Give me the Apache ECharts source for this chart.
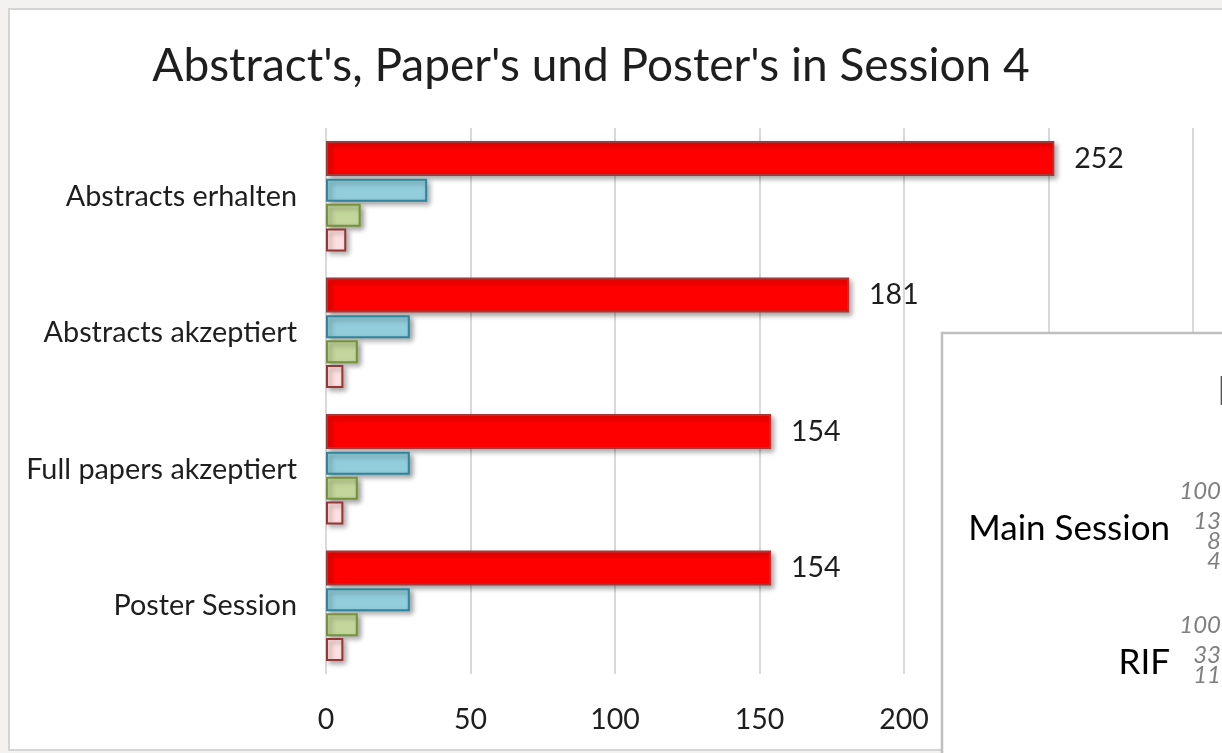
<!DOCTYPE html>
<html>
<head>
<meta charset="utf-8">
<title>Abstract's, Paper's und Poster's in Session 4</title>
<script src="https://cdn.jsdelivr.net/npm/echarts@6/dist/echarts.min.js"></script>
<style>
  html, body { margin: 0; padding: 0; background: #f3f2f0; }
  #chart { width: 1222px; height: 753px; }
</style>
</head>
<body>
<div id="chart"></div>
<script>
// Submissions per stage (left chart)
const categories = ['Abstracts erhalten', 'Abstracts akzeptiert', 'Full papers akzeptiert', 'Poster Session'];
const totalValues = [252, 181, 154, 154];
const blueValues = [35, 29, 29, 29];
const greenValues = [12, 11, 11, 11];
const pinkValues = [7, 6, 6, 6];
const valueTicks = { min: 0, max: 300, interval: 50 };

// Share per session in percent (overlapping panel)
const shareCategories = ['Main Session', 'RIF'];
const shareRed = [100, 100];
const shareBlue = [13, 33];
const shareGreen = [8, 11];
const sharePink = [4, null];

const FONT = 'Lato, "Open Sans", sans-serif';
const TEXT = '#1e1e1e';
const shadow = { shadowBlur: 5, shadowOffsetX: 3, shadowOffsetY: 3, shadowColor: 'rgba(0,0,0,0.35)' };

function mainBar(name, data, fill, border, width, withLabel) {
  return {
    name: name, type: 'bar', xAxisIndex: 0, yAxisIndex: 0,
    data: data, barWidth: width, barGap: '8%',
    itemStyle: Object.assign({ color: fill, borderColor: border, borderWidth: 2 }, shadow),
    label: withLabel ? {
      show: true, position: 'right', distance: 20,
      fontFamily: FONT, fontSize: 28.5, color: TEXT
    } : { show: false },
    z: 2
  };
}

function shareBar(name, data, width) {
  return {
    name: name, type: 'bar', xAxisIndex: 1, yAxisIndex: 1,
    data: data, barWidth: width, barGap: '0%',
    itemStyle: { color: 'transparent' },
    label: {
      show: true, position: 'left', distance: 5,
      fontFamily: FONT, fontStyle: 'italic', fontSize: 24, color: '#7f7f7f'
    },
    z: 12
  };
}

const chart = echarts.init(document.getElementById('chart'), null, { renderer: 'canvas' });

chart.setOption({
  backgroundColor: '#f3f2f0',
  animation: false,
  title: {
    text: "Abstract's, Paper's und Poster's in Session 4",
    left: 586, top: 38, textAlign: 'center',
    textStyle: { fontFamily: FONT, fontSize: 46, fontWeight: 'normal', color: TEXT }
  },
  graphic: [
    { // chart frame
      type: 'rect', z: -10,
      shape: { x: 9, y: 9, width: 1240, height: 741 },
      style: { fill: '#ffffff', stroke: '#d4d4d4', lineWidth: 2 }
    },
    { // overlapping panel
      type: 'rect', z: 8,
      shape: { x: 942, y: 333, width: 400, height: 460 },
      style: { fill: '#ffffff', stroke: '#bfbfbf', lineWidth: 2.5 }
    },
    {
      type: 'text', z: 9, x: 1217, y: 372,
      style: { text: 'Prozentuale Verteilung', font: '40px ' + FONT, fill: '#555555', textVerticalAlign: 'top' }
    }
  ],
  grid: [
    { left: 326, top: 128, width: 867, height: 546, containLabel: false },
    { left: 1226, top: 454, width: 500, height: 268, containLabel: false }
  ],
  xAxis: [
    {
      type: 'value', gridIndex: 0,
      min: valueTicks.min, max: valueTicks.max, interval: valueTicks.interval,
      axisLine: { show: false }, axisTick: { show: false },
      splitLine: { show: true, lineStyle: { color: '#d9d9d9', width: 2 } },
      axisLabel: { margin: 31, fontFamily: FONT, fontSize: 28.5, color: TEXT }
    },
    { type: 'value', gridIndex: 1, min: 0, max: 100, show: false }
  ],
  yAxis: [
    {
      type: 'category', gridIndex: 0, data: categories, inverse: true,
      axisLine: { show: false }, axisTick: { show: false }, splitLine: { show: false },
      axisLabel: { margin: 29, fontFamily: FONT, fontSize: 28.8, color: TEXT }
    },
    {
      type: 'category', gridIndex: 1, data: shareCategories, inverse: true, z: 12,
      axisLine: { show: false }, axisTick: { show: false }, splitLine: { show: false },
      axisLabel: {
        margin: 56, verticalAlign: 'top', lineHeight: 15,
        fontFamily: FONT, fontSize: 35, color: '#000000'
      }
    }
  ],
  series: [
    mainBar('Gesamt', totalValues, '#ff0000', '#a33a3a', 35, true),
    mainBar('Gruppe A', blueValues, '#92cddc', '#31849b', 23, false),
    mainBar('Gruppe B', greenValues, '#c3d69b', '#76923c', 23, false),
    mainBar('Gruppe C', pinkValues, '#ffe0e0', '#953735', 23, false),
    shareBar('Gesamt %', shareRed, 40),
    shareBar('Gruppe A %', shareBlue, 20),
    shareBar('Gruppe B %', shareGreen, 20),
    shareBar('Gruppe C %', sharePink, 20)
  ]
});
</script>
</body>
</html>
